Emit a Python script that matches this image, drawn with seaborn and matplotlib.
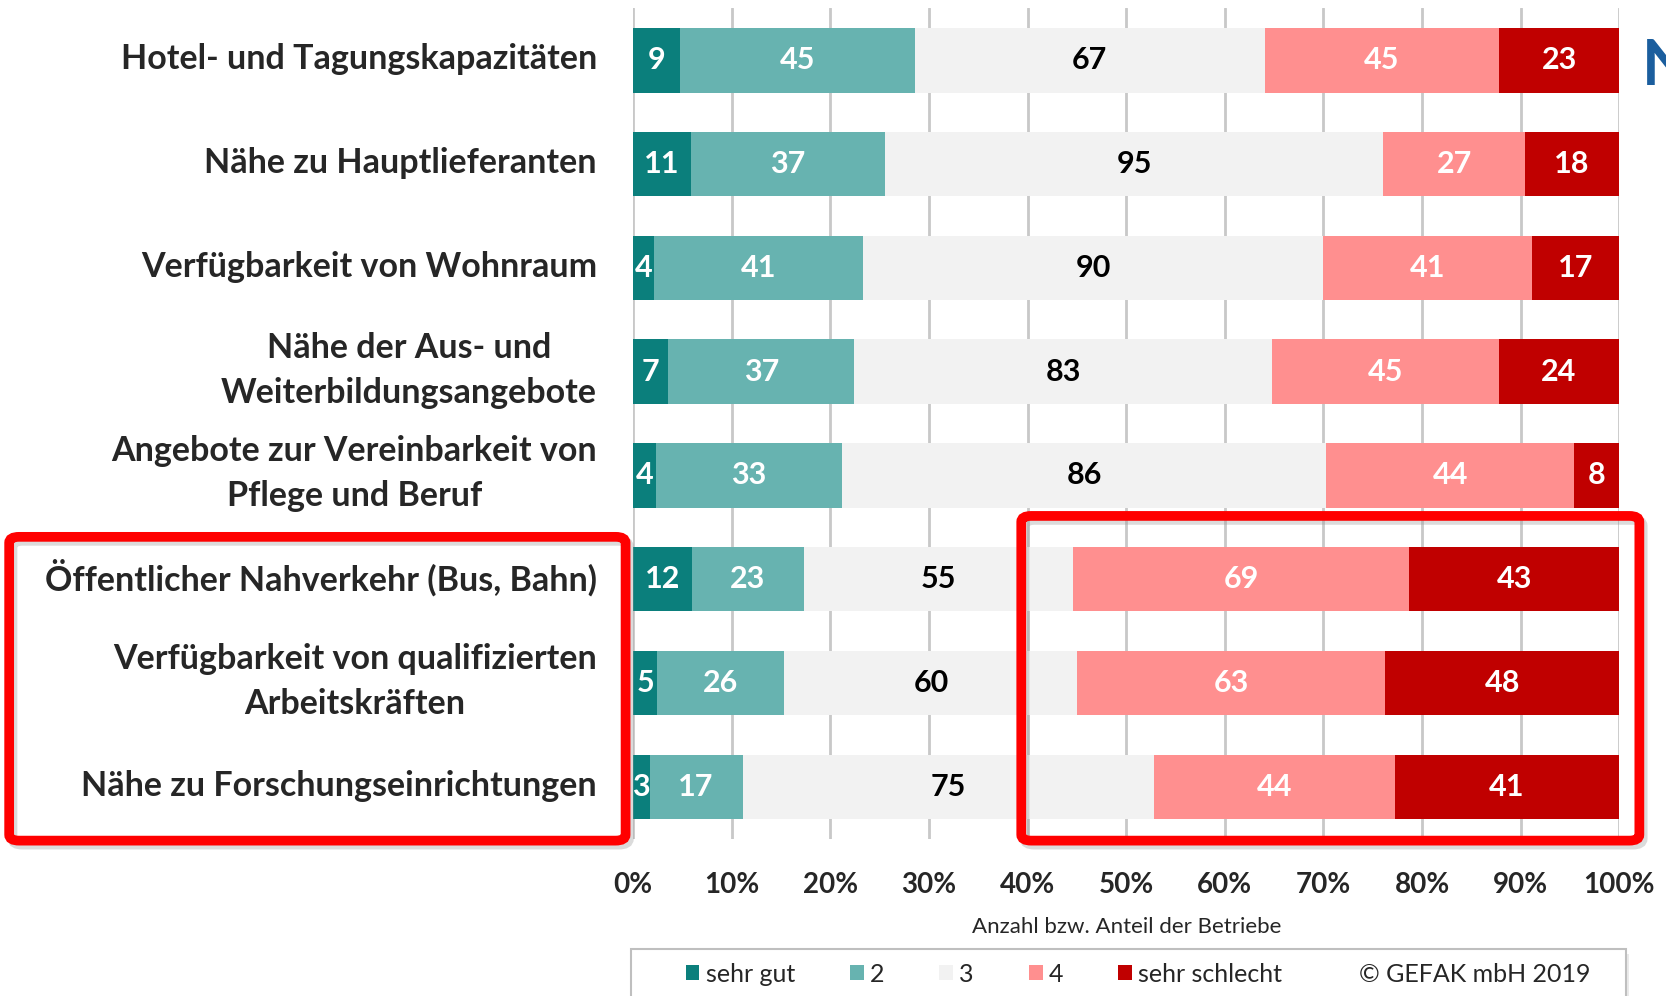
# Standortfaktoren - Bewertung durch Betriebe (100% gestapelt)
import numpy as np
import pandas as pd
import seaborn as sns
import matplotlib.pyplot as plt
import matplotlib.transforms as mtrans
from matplotlib.patches import FancyBboxPatch, Rectangle, Patch

# daten
kategorien = [
    'Hotel- und Tagungskapazitäten',
    'Nähe zu Hauptlieferanten',
    'Verfügbarkeit von Wohnraum',
    'Nähe der Aus- und\nWeiterbildungsangebote',
    'Angebote zur Vereinbarkeit von\nPflege und Beruf',
    'Öffentlicher Nahverkehr (Bus, Bahn)',
    'Verfügbarkeit von qualifizierten\nArbeitskräften',
    'Nähe zu Forschungseinrichtungen',
]
sehr_gut = [9, 11, 4, 7, 4, 12, 5, 3]
note_2 = [45, 37, 41, 37, 33, 23, 26, 17]
note_3 = [67, 95, 90, 83, 86, 55, 60, 75]
note_4 = [45, 27, 41, 45, 44, 69, 63, 44]
sehr_schlecht = [23, 18, 17, 24, 8, 43, 48, 41]

stufen = ['sehr gut', '2', '3', '4', 'sehr schlecht']
farben = ['#0B7F7C', '#67B3B0', '#F2F2F2', '#FF8F8F', '#C00000']
textfarben = ['white', 'white', 'black', 'white', 'white']
ticks = list(range(0, 101, 10))

sns.set_style('white')
plt.rcParams['font.family'] = ['Lato', 'DejaVu Sans']

df = pd.DataFrame({'kategorie': kategorien, 'sehr gut': sehr_gut, '2': note_2,
                   '3': note_3, '4': note_4, 'sehr schlecht': sehr_schlecht})
werte = df[stufen]
anteile = werte.div(werte.sum(axis=1), axis=0) * 100
kum = anteile.cumsum(axis=1)

fig = plt.figure(figsize=(16.66, 9.96), dpi=100)
ax = fig.add_axes([0.38, 0.158, 0.592, 0.8335])

# gestapelte balken: kumuliert von hinten nach vorne zeichnen
for stufe, farbe in reversed(list(zip(stufen, farben))):
    sns.barplot(x=kum[stufe].values, y=df['kategorie'], orient='h', color=farbe,
                width=0.62, saturation=1, linewidth=0, ax=ax, zorder=2)

# beschriftung der segmente
for i in range(len(df)):
    for stufe, tf in zip(stufen, textfarben):
        mitte = kum.loc[i, stufe] - anteile.loc[i, stufe] / 2
        ax.text(mitte, i, str(werte.loc[i, stufe]), ha='center', va='center',
                color=tf, fontsize=22, fontweight='bold', zorder=3)

ax.set_xlim(0, 100)
ax.set_ylim(len(df) - 0.5, -0.5)
ax.set_xticks(ticks)
ax.set_xticklabels([f'{t}%' for t in ticks], fontsize=20, fontweight='bold')
ax.xaxis.grid(True, color='#C8C8C8', lw=2)
ax.set_axisbelow(True)
ax.tick_params(axis='x', length=0, pad=24)
ax.tick_params(axis='y', length=0, pad=26)
for lbl in ax.get_yticklabels():
    lbl.set_fontsize(24.5)
    lbl.set_fontweight('bold')
    lbl.set_multialignment('center')
    lbl.set_linespacing(1.5)
    dy = 11 if '\n' in lbl.get_text() else 4
    lbl.set_transform(lbl.get_transform() + mtrans.ScaledTranslation(0, dy / 100, fig.dpi_scale_trans))
ax.set_xlabel('')
ax.set_ylabel('')
sns.despine(ax=ax, left=True, bottom=True)

fig.text(0.676, 0.069, 'Anzahl bzw. Anteil der Betriebe', ha='center', va='center', fontsize=16)

# legende mit rahmen
fig.add_artist(Rectangle((0.381, -0.02), 0.597, 0.062, transform=fig.transFigure,
                         facecolor='#DDDDDD', edgecolor='none', zorder=4, alpha=0.6))
fig.add_artist(Rectangle((0.379, -0.015), 0.597, 0.062, transform=fig.transFigure,
                         facecolor='white', edgecolor='#BFBFBF', lw=1.5, zorder=4))
griffe = [Patch(facecolor=f, edgecolor='none') for f in farben]
leg = fig.legend(griffe, stufen, ncol=5, loc='center left', bbox_to_anchor=(0.398, 0.022),
                 frameon=False, fontsize=18, handlelength=0.55, handleheight=0.55,
                 handletextpad=0.25, columnspacing=2.2)
leg.set_zorder(5)
fig.text(0.816, 0.022, '© GEFAK mbH 2019', ha='left', va='center', fontsize=18, zorder=5)

# rote markierungen
for x0, y0, x1, y1 in [(0.0055, 0.156, 0.3755, 0.461), (0.613, 0.156, 0.984, 0.482)]:
    schatten = FancyBboxPatch((x0 + 0.002, y0 - 0.004), x1 - x0, y1 - y0,
                              boxstyle='round,pad=0,rounding_size=0.006', transform=fig.transFigure,
                              facecolor='none', edgecolor='#999999', lw=7, alpha=0.35, zorder=5)
    rahmen = FancyBboxPatch((x0, y0), x1 - x0, y1 - y0,
                            boxstyle='round,pad=0,rounding_size=0.006', transform=fig.transFigure,
                            facecolor='none', edgecolor='#FF0000', lw=7, zorder=6)
    fig.add_artist(schatten)
    fig.add_artist(rahmen)

# logo-rest am rand
fig.text(0.9855, 0.915, 'N', color='#1B5E9E', fontsize=46, fontweight='bold', ha='left', va='baseline')

fig.savefig('out.png', dpi=100)
